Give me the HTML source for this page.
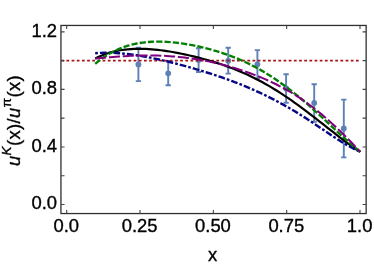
<!DOCTYPE html>
<html><head><meta charset="utf-8"><style>
html,body{margin:0;padding:0;background:#fff;}
svg{display:block;}
text{font-family:"Liberation Sans",sans-serif;font-size:18.4px;fill:#000;stroke:#000;stroke-width:0.35px;}
.lbl{will-change:transform;}
</style></head><body>
<svg width="374" height="266" viewBox="0 0 374 266">
<rect width="374" height="266" fill="#fff"/>
<g fill="none" stroke-linecap="butt">
<path d="M138.4,47.7 V81.1 M135.75,47.7 h5.3 M135.75,81.1 h5.3 M168.2,61.3 V85.3 M165.54999999999998,61.3 h5.3 M165.54999999999998,85.3 h5.3 M198.6,48.2 V72.0 M195.95,48.2 h5.3 M195.95,72.0 h5.3 M228.2,47.8 V73.6 M225.54999999999998,47.8 h5.3 M225.54999999999998,73.6 h5.3 M257.4,50.1 V78.5 M254.74999999999997,50.1 h5.3 M254.74999999999997,78.5 h5.3 M286.1,74.3 V102.7 M283.45000000000005,74.3 h5.3 M283.45000000000005,102.7 h5.3 M314.2,84.3 V121.7 M311.55,84.3 h5.3 M311.55,121.7 h5.3 M343.8,99.6 V157.4 M341.15000000000003,99.6 h5.3 M341.15000000000003,157.4 h5.3" stroke="#5e81b5" stroke-width="1.9"/>
<g fill="#5e81b5" stroke="none"><circle cx="138.4" cy="64.4" r="2.9"/><circle cx="168.2" cy="73.3" r="2.9"/><circle cx="198.6" cy="60.1" r="2.9"/><circle cx="228.2" cy="60.7" r="2.9"/><circle cx="257.4" cy="64.3" r="2.9"/><circle cx="286.1" cy="88.5" r="2.9"/><circle cx="314.2" cy="103.0" r="2.9"/><circle cx="343.8" cy="128.5" r="2.9"/></g>
<path d="M60.95,60.70 H360.0" stroke="#aa1216" stroke-width="1.7" stroke-dasharray="2.75 2.42" stroke-dashoffset="4.87"/>
<path d="M95.2,58.45 L98.2,57.01 L101.2,55.71 L104.1,54.55 L107.1,53.51 L110.1,52.59 L113.1,51.79 L116.1,51.10 L119.0,50.50 L122.0,50.01 L125.0,49.60 L128.0,49.29 L131.0,49.05 L133.9,48.89 L136.9,48.80 L139.9,48.78 L142.9,48.83 L145.9,48.93 L148.8,49.09 L151.8,49.31 L154.8,49.57 L157.8,49.88 L160.8,50.23 L163.7,50.63 L166.7,51.06 L169.7,51.53 L172.7,52.04 L175.7,52.57 L178.6,53.14 L181.6,53.74 L184.6,54.37 L187.6,55.02 L190.6,55.71 L193.5,56.42 L196.5,57.16 L199.5,57.92 L202.5,58.71 L205.5,59.53 L208.4,60.38 L211.4,61.26 L214.4,62.16 L217.4,63.10 L220.4,64.07 L223.3,65.08 L226.3,66.12 L229.3,67.20 L232.3,68.32 L235.2,69.48 L238.2,70.69 L241.2,71.94 L244.2,73.24 L247.2,74.59 L250.1,75.99 L253.1,77.43 L256.1,78.93 L259.1,80.47 L262.1,82.07 L265.0,83.71 L268.0,85.41 L271.0,87.16 L274.0,88.95 L277.0,90.79 L279.9,92.68 L282.9,94.62 L285.9,96.60 L288.9,98.63 L291.9,100.69 L294.8,102.80 L297.8,104.94 L300.8,107.12 L303.8,109.33 L306.8,111.58 L309.7,113.85 L312.7,116.14 L315.7,118.45 L318.7,120.78 L321.7,123.12 L324.6,125.47 L327.6,127.82 L330.6,130.16 L333.6,132.49 L336.6,134.81 L339.5,137.11 L342.5,139.37 L345.5,141.60 L348.5,143.79 L351.5,145.92 L354.4,147.99 L357.4,149.99 L360.4,151.91" stroke="#000" stroke-width="2.2"/>
<path d="M95.2,53.19 L98.2,52.98 L101.2,52.83 L104.1,52.74 L107.1,52.72 L110.1,52.76 L113.1,52.85 L116.1,53.00 L119.0,53.19 L122.0,53.44 L125.0,53.72 L128.0,54.05 L131.0,54.42 L133.9,54.83 L136.9,55.28 L139.9,55.75 L142.9,56.26 L145.9,56.80 L148.8,57.37 L151.8,57.97 L154.8,58.59 L157.8,59.23 L160.8,59.90 L163.7,60.58 L166.7,61.29 L169.7,62.02 L172.7,62.76 L175.7,63.53 L178.6,64.31 L181.6,65.11 L184.6,65.92 L187.6,66.75 L190.6,67.59 L193.5,68.45 L196.5,69.33 L199.5,70.22 L202.5,71.13 L205.5,72.06 L208.4,73.00 L211.4,73.96 L214.4,74.93 L217.4,75.93 L220.4,76.94 L223.3,77.98 L226.3,79.04 L229.3,80.11 L232.3,81.22 L235.2,82.35 L238.2,83.50 L241.2,84.68 L244.2,85.89 L247.2,87.13 L250.1,88.40 L253.1,89.70 L256.1,91.03 L259.1,92.39 L262.1,93.78 L265.0,95.20 L268.0,96.66 L271.0,98.16 L274.0,99.68 L277.0,101.24 L279.9,102.84 L282.9,104.47 L285.9,106.13 L288.9,107.83 L291.9,109.57 L294.8,111.34 L297.8,113.14 L300.8,114.98 L303.8,116.86 L306.8,118.76 L309.7,120.70 L312.7,122.67 L315.7,124.66 L318.7,126.67 L321.7,128.69 L324.6,130.71 L327.6,132.73 L330.6,134.74 L333.6,136.72 L336.6,138.66 L339.5,140.56 L342.5,142.40 L345.5,144.18 L348.5,145.89 L351.5,147.52 L354.4,149.07 L357.4,150.53 L360.4,151.90" stroke="#060684" stroke-width="2.4" stroke-dasharray="2.7 2.05 6.7 2.05"/>
<path d="M95.2,63.93 L98.2,61.44 L101.2,59.14 L104.1,57.03 L107.1,55.09 L110.1,53.31 L113.1,51.69 L116.1,50.22 L119.0,48.89 L122.0,47.69 L125.0,46.62 L128.0,45.68 L131.0,44.85 L133.9,44.13 L136.9,43.51 L139.9,42.99 L142.9,42.56 L145.9,42.22 L148.8,41.96 L151.8,41.78 L154.8,41.67 L157.8,41.63 L160.8,41.66 L163.7,41.74 L166.7,41.89 L169.7,42.09 L172.7,42.35 L175.7,42.66 L178.6,43.01 L181.6,43.41 L184.6,43.85 L187.6,44.34 L190.6,44.87 L193.5,45.44 L196.5,46.05 L199.5,46.69 L202.5,47.38 L205.5,48.11 L208.4,48.87 L211.4,49.68 L214.4,50.53 L217.4,51.41 L220.4,52.35 L223.3,53.32 L226.3,54.35 L229.3,55.42 L232.3,56.54 L235.2,57.71 L238.2,58.94 L241.2,60.23 L244.2,61.57 L247.2,62.97 L250.1,64.42 L253.1,65.94 L256.1,67.52 L259.1,69.16 L262.1,70.86 L265.0,72.62 L268.0,74.45 L271.0,76.34 L274.0,78.28 L277.0,80.29 L279.9,82.36 L282.9,84.49 L285.9,86.68 L288.9,88.93 L291.9,91.24 L294.8,93.60 L297.8,96.01 L300.8,98.48 L303.8,101.00 L306.8,103.56 L309.7,106.18 L312.7,108.83 L315.7,111.53 L318.7,114.25 L321.7,117.01 L324.6,119.78 L327.6,122.58 L330.6,125.38 L333.6,128.18 L336.6,130.98 L339.5,133.76 L342.5,136.52 L345.5,139.24 L348.5,141.91 L351.5,144.53 L354.4,147.07 L357.4,149.54 L360.4,151.91" stroke="#007f00" stroke-width="2.35" stroke-dasharray="6.2 2.1"/>
<path d="M95.2,58.45 L98.2,58.17 L101.2,57.90 L104.1,57.64 L107.1,57.38 L110.1,57.14 L113.1,56.91 L116.1,56.69 L119.0,56.49 L122.0,56.30 L125.0,56.13 L128.0,55.98 L131.0,55.84 L133.9,55.73 L136.9,55.63 L139.9,55.56 L142.9,55.51 L145.9,55.48 L148.8,55.48 L151.8,55.50 L154.8,55.54 L157.8,55.62 L160.8,55.72 L163.7,55.85 L166.7,56.00 L169.7,56.19 L172.7,56.40 L175.7,56.64 L178.6,56.92 L181.6,57.22 L184.6,57.56 L187.6,57.92 L190.6,58.32 L193.5,58.75 L196.5,59.21 L199.5,59.71 L202.5,60.24 L205.5,60.80 L208.4,61.39 L211.4,62.02 L214.4,62.68 L217.4,63.38 L220.4,64.10 L223.3,64.86 L226.3,65.66 L229.3,66.48 L232.3,67.34 L235.2,68.24 L238.2,69.16 L241.2,70.13 L244.2,71.12 L247.2,72.15 L250.1,73.22 L253.1,74.33 L256.1,75.48 L259.1,76.66 L262.1,77.89 L265.0,79.17 L268.0,80.49 L271.0,81.86 L274.0,83.27 L277.0,84.75 L279.9,86.27 L282.9,87.86 L285.9,89.50 L288.9,91.20 L291.9,92.97 L294.8,94.80 L297.8,96.70 L300.8,98.66 L303.8,100.69 L306.8,102.79 L309.7,104.97 L312.7,107.21 L315.7,109.53 L318.7,111.92 L321.7,114.37 L324.6,116.90 L327.6,119.50 L330.6,122.16 L333.6,124.89 L336.6,127.68 L339.5,130.54 L342.5,133.45 L345.5,136.41 L348.5,139.43 L351.5,142.49 L354.4,145.59 L357.4,148.74 L360.4,151.91" stroke="#800080" stroke-width="2.0" stroke-dasharray="11.05 2.75"/>
</g>
<rect x="60.95" y="25.45" width="305.2" height="188.1" fill="none" stroke="#303030" stroke-width="1.3"/>
<path d="M66.70,213.5 v-3.6 M66.70,25.45 v3.6 M140.03,213.5 v-3.6 M140.03,25.45 v3.6 M213.35,213.5 v-3.6 M213.35,25.45 v3.6 M286.68,213.5 v-3.6 M286.68,25.45 v3.6 M360.00,213.5 v-3.6 M360.00,25.45 v3.6 M60.95,204.45 h3.6 M366.15,204.45 h-3.6 M60.95,175.69 h3.6 M366.15,175.69 h-3.6 M60.95,146.93 h3.6 M366.15,146.93 h-3.6 M60.95,118.17 h3.6 M366.15,118.17 h-3.6 M60.95,89.41 h3.6 M366.15,89.41 h-3.6 M60.95,60.65 h3.6 M366.15,60.65 h-3.6 M60.95,31.89 h3.6 M366.15,31.89 h-3.6" fill="none" stroke="#444" stroke-width="1.1"/>
<g class="lbl">
<text x="66.30" y="232.40" text-anchor="middle" font-size="18.4px">0.0</text><text x="139.62" y="232.40" text-anchor="middle" font-size="18.4px">0.25</text><text x="212.95" y="232.40" text-anchor="middle" font-size="18.4px">0.50</text><text x="286.28" y="232.40" text-anchor="middle" font-size="18.4px">0.75</text><text x="359.60" y="232.40" text-anchor="middle" font-size="18.4px">1.0</text>
<text x="57.00" y="209.35" text-anchor="end" font-size="18.4px">0.0</text><text x="57.00" y="151.83" text-anchor="end" font-size="18.4px">0.4</text><text x="57.00" y="94.31" text-anchor="end" font-size="18.4px">0.8</text><text x="57.00" y="36.79" text-anchor="end" font-size="18.4px">1.2</text>
<text x="212.70" y="261.10" text-anchor="middle" font-size="19.4px">x</text>
<text transform="translate(19.7,120.5) rotate(-90)" text-anchor="middle" font-size="19.4px" letter-spacing="0.38"><tspan font-style="italic">u</tspan><tspan font-style="italic" font-size="13.5px" dy="-9.0">K</tspan><tspan dy="9.0">(x)/</tspan><tspan font-style="italic">u</tspan><tspan font-size="13.5px" dy="-9.0">π</tspan><tspan dy="9.0">(x)</tspan></text>
</g>
</svg>
</body></html>
